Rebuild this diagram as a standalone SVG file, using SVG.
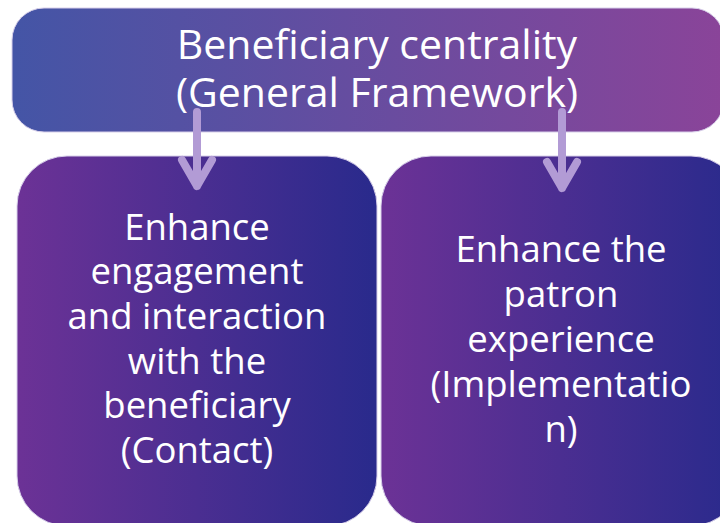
<svg xmlns="http://www.w3.org/2000/svg" width="720" height="523" viewBox="0 0 720 523">
<defs>
<linearGradient id="gTop" x1="0" y1="0" x2="1" y2="0">
<stop offset="0" stop-color="#4455a6"/>
<stop offset="1" stop-color="#8a4499"/>
</linearGradient>
<linearGradient id="gBot" x1="0" y1="0" x2="1" y2="0">
<stop offset="0" stop-color="#6c3296"/>
<stop offset="1" stop-color="#292a8c"/>
</linearGradient>
<style>
.t{font-family:"Open Sans","Noto Sans","DejaVu Sans",sans-serif;fill:#ffffff;text-anchor:middle}
.big{font-size:41px}
.mid{font-size:36.5px}
.con{stroke:#b29bd5;stroke-width:8;fill:none;stroke-linecap:round;stroke-linejoin:round}
</style>
</defs>
<g id="node-top">
<rect x="12" y="8" width="712" height="124" rx="32" fill="url(#gTop)" stroke="#d8d0ea" stroke-width="1"/>
<text class="t big" x="377" y="59">Beneficiary centrality</text>
<text class="t big" x="377" y="107">(General Framework)</text>
</g>
<g id="node-contact">
<rect x="17" y="156" width="360" height="370" rx="50" fill="url(#gBot)" stroke="#d8d0ea" stroke-width="1"/>
<text class="t mid" x="197" y="240">Enhance</text>
<text class="t mid" x="197" y="284">engagement</text>
<text class="t mid" x="197" y="329">and interaction</text>
<text class="t mid" x="197" y="374">with the</text>
<text class="t mid" x="197" y="418">beneficiary</text>
<text class="t mid" x="197" y="463">(Contact)</text>
</g>
<g id="node-implementation">
<rect x="381" y="156" width="360" height="370" rx="50" fill="url(#gBot)" stroke="#d8d0ea" stroke-width="1"/>
<text class="t mid" x="561" y="262">Enhance the</text>
<text class="t mid" x="561" y="307">patron</text>
<text class="t mid" x="561" y="352">experience</text>
<text class="t mid" x="561" y="397">(Implementatio</text>
<text class="t mid" x="561" y="442">n)</text>
</g>
<g id="connectors">
<path class="con" d="M197 112 V186 M182 160 L197 186 L212 160"/>
<path class="con" d="M562 112 V188 M547 162 L562 188 L577 162"/>
</g>
</svg>
